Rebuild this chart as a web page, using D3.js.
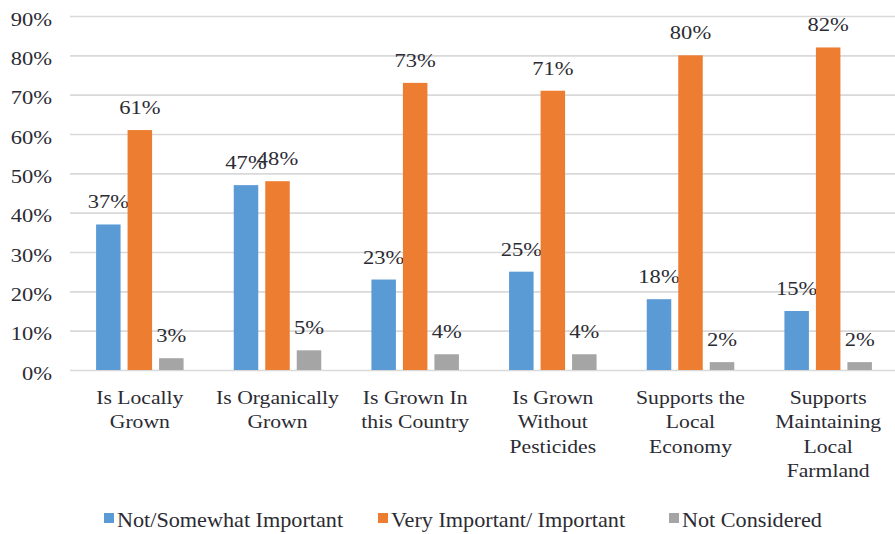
<!DOCTYPE html>
<html>
<head>
<meta charset="utf-8">
<script src="https://cdn.jsdelivr.net/npm/d3@7"></script>
<style>
  body { margin: 0; background: #fff; }
  svg { display: block; }
  svg text { font-family: "Liberation Serif", "Times New Roman", serif; }
</style>
</head>
<body>
<svg id="chart" width="895" height="534"></svg>
<script>
// ---- data ----
const categories = [
  "Is Locally Grown",
  "Is Organically Grown",
  "Is Grown In this Country",
  "Is Grown Without Pesticides",
  "Supports the Local Economy",
  "Supports Maintaining Local Farmland"
];
const categoryLines = [
  ["Is Locally", "Grown"],
  ["Is Organically", "Grown"],
  ["Is Grown In", "this Country"],
  ["Is Grown", "Without", "Pesticides"],
  ["Supports the", "Local", "Economy"],
  ["Supports", "Maintaining", "Local", "Farmland"]
];
const seriesNames = ["Not/Somewhat Important", "Very Important/ Important", "Not Considered"];
const notSomewhat = [37, 47, 23, 25, 18, 15];
const veryImportant = [61, 48, 73, 71, 80, 82];
const notConsidered = [3, 5, 4, 4, 2, 2];
const seriesColors = ["#5B9BD5", "#ED7D31", "#A5A5A5"];
const yTicks = [0, 10, 20, 30, 40, 50, 60, 70, 80, 90];

const seriesValues = [notSomewhat, veryImportant, notConsidered];

// ---- layout ----
const svg = d3.select("#chart");
const plotLeft = 71, plotRight = 897, yBottom = 370, yTop = 16;
const textColor = "#2b2b33";
const numScale = 1.22;

const x0 = d3.scaleBand().domain(categories).range([plotLeft, plotRight]).padding(0);
const x1 = d3.scaleBand().domain(seriesNames).range([-43.75, 43.75]).paddingInner(0.222);
const y = d3.scaleLinear().domain([0, 90]).range([yBottom, yTop]);

// y axis with gridlines
const yAxis = d3.axisLeft(y).tickValues(yTicks).tickFormat(d => d + "%")
  .tickSize(-(895 - 70)).tickPadding(0);
const gy = svg.append("g").attr("transform", "translate(70,0)").call(yAxis);
gy.attr("font-family", null).attr("font-size", null);
gy.select(".domain").remove();
gy.selectAll(".tick line").attr("stroke", "#d9d9d9").attr("stroke-width", 1.6);
gy.selectAll(".tick text")
  .attr("x", -18 / numScale).attr("dy", null).attr("y", 9)
  .attr("transform", `scale(${numScale},1)`)
  .style("font-size", "18.5px")
  .attr("fill", textColor).attr("text-anchor", "end");

// bars
const groups = svg.append("g").selectAll("g.grp")
  .data(categories).join("g").attr("class", "grp")
  .attr("transform", d => `translate(${x0(d) + x0.bandwidth() / 2},0)`);

groups.each(function (cat, ci) {
  const g = d3.select(this);
  seriesNames.forEach((s, si) => {
    const v = seriesValues[si][ci];
    g.append("rect")
      .attr("x", x1(s)).attr("width", x1.bandwidth())
      .attr("y", y(v)).attr("height", y(0) - y(v))
      .attr("fill", seriesColors[si]);
    g.append("g")
      .attr("transform", `translate(${x1(s) + x1.bandwidth() / 2},${y(v) - 16})`)
      .append("text")
      .attr("text-anchor", "middle")
      .attr("transform", `scale(${numScale},1)`)
      .attr("fill", textColor)
      .style("font-size", "18.5px")
      .text(v + "%");
  });
});

// x axis (category labels)
const xAxis = d3.axisBottom(x0).tickSize(0).tickPadding(0);
const gx = svg.append("g").attr("transform", `translate(0,${yBottom})`).call(xAxis);
gx.attr("font-family", null).attr("font-size", null);
gx.select(".domain").remove();
gx.selectAll(".tick text").each(function (d, i) {
  const t = d3.select(this);
  t.text(null).attr("y", 0).attr("dy", null)
    .attr("transform", "scale(1.14,1)")
    .style("font-size", "19px")
    .attr("fill", textColor);
  categoryLines[i].forEach((line, li) => {
    t.append("tspan").attr("x", 0).attr("y", 34 + li * 24.5).text(line);
  });
});

// legend
const legendX = [104, 378, 669];
const legend = svg.append("g").selectAll("g")
  .data(seriesNames).join("g")
  .attr("transform", (d, i) => `translate(${legendX[i]},513)`);
legend.append("rect").attr("width", 10).attr("height", 10)
  .attr("fill", (d, i) => seriesColors[i]);
legend.append("text")
  .attr("transform", "translate(13,14) scale(1.11,1)")
  .attr("fill", textColor)
  .style("font-size", "20px")
  .text(d => d);
</script>
</body>
</html>
